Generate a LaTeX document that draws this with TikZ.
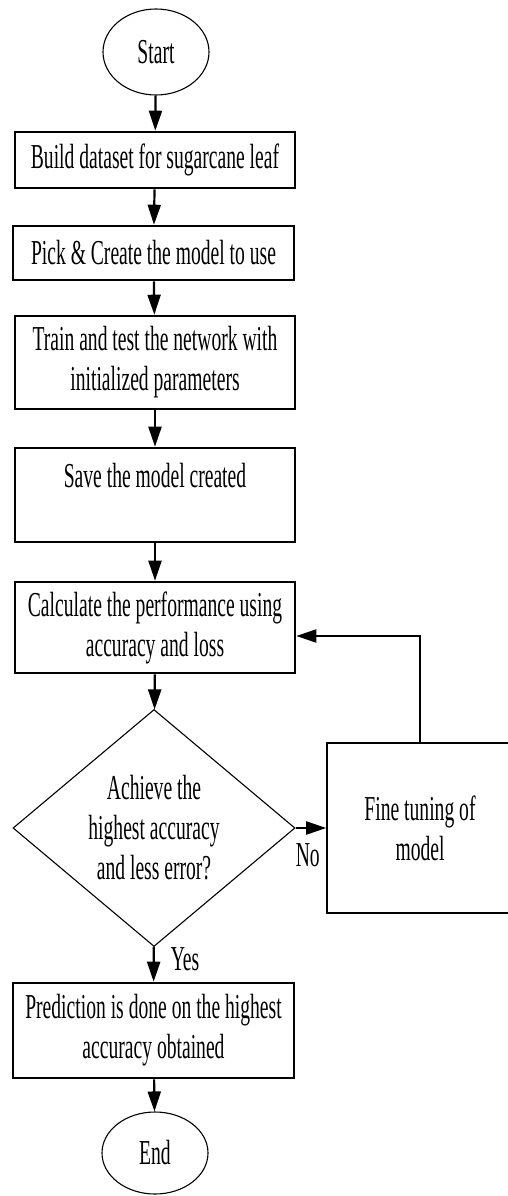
\documentclass[tikz,border=0pt]{standalone}
\usepackage{fontspec}
\setmainfont{Liberation Serif}[FakeStretch=0.56]
\usetikzlibrary{shapes.geometric,arrows.meta}
\begin{document}
\begin{tikzpicture}[x=1pt,y=-1pt,
  every node/.style={font=\fontsize{35}{40}\selectfont, align=center, inner sep=0pt},
  procbox/.style={draw, rectangle, line width=2.6pt, minimum width=280pt},
  term/.style={draw, ellipse, line width=1.1pt, minimum width=106pt},
  decis/.style={draw, diamond, line width=1.1pt, minimum width=282pt, minimum height=237pt},
  arr/.style={line width=2.2pt, -{Triangle[length=20pt,width=13pt]}},
  lbl/.style={font=\fontsize{35}{40}\selectfont}
]
\useasboundingbox (0,0) rectangle (508,1196);
\clip (0,0) rectangle (508,1196);
\fill[white] (0,0) rectangle (508,1196);

\node[term, minimum height=86pt] (start) at (156,52) {Start};
\node[procbox, minimum height=56pt] (b1) at (155,160) {Build dataset for sugarcane leaf};
\node[procbox, minimum height=54pt, minimum width=281pt] (b2) at (153.5,253) {Pick \& Create the model to use};
\node[procbox, minimum height=93pt] (b3) at (155,362.5) {Train and test the network with\\initialized parameters};
\node[procbox, minimum height=94pt] (b4) at (155,495) {Save the model created\\\mbox{}};
\node[procbox, minimum height=91pt] (b5) at (155,627.5) {Calculate the performance using\\accuracy and loss};
\node[decis] (dia) at (154,828) {Achieve the\\highest accuracy\\and less error?};
\node[draw, rectangle, line width=1.6pt, minimum width=186pt, minimum height=170pt] (fine) at (420,828) {Fine tuning of\\model};
\node[procbox, minimum height=95pt, minimum width=281pt] (b6) at (153.5,1030.5) {Prediction is done on the highest\\accuracy obtained};
\node[term, minimum height=82pt] (end) at (155,1153) {End};

\draw[arr] (start) -- (b1);
\draw[arr] (b1) -- (b2);
\draw[arr] (b2) -- (b3);
\draw[arr] (b3) -- (b4);
\draw[arr] (b4) -- (b5);
\draw[arr] (b5) -- (dia);
\draw[arr] (dia) -- (b6) node[lbl, pos=0.35, right=16pt] {Yes};
\draw[arr] (dia.east) -- (fine.west) node[lbl, pos=0.4, below=14pt] {No};
\coordinate (loop) at (420,636);
\draw[arr] (fine.north) -- (loop) -- (b5.east |- loop);
\draw[arr] (b6) -- (end);
\end{tikzpicture}
\end{document}
